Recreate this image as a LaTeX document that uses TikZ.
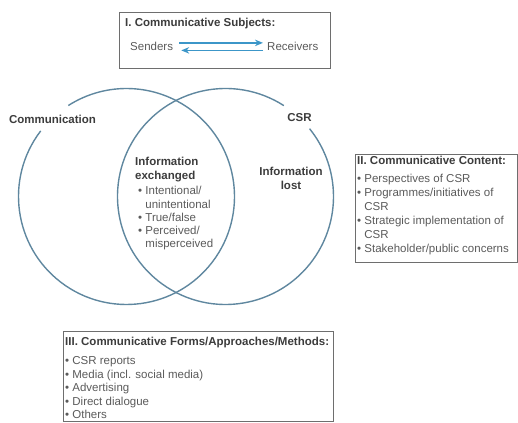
\documentclass[tikz,border=0pt]{standalone}
\usepackage{fontspec}
\setmainfont{Liberation Sans}
\usetikzlibrary{arrows.meta}
\definecolor{circ}{HTML}{5F879F}
\definecolor{arr}{HTML}{3C96C8}
\definecolor{boxln}{HTML}{6E6E6E}
\definecolor{txt}{HTML}{5A5A5A}
\definecolor{ttl}{HTML}{3C3C3C}
\newcommand{\hang}{\hphantom{•\ }}
\begin{document}
\begin{tikzpicture}[x=1pt,y=1pt,
  lbl/.style={inner sep=0pt, text=ttl, align=left, font=\fontsize{11.5}{14}\selectfont\bfseries},
  body/.style={inner sep=0pt, text=txt, align=left, font=\fontsize{11.5}{13.5}\selectfont},
  frame/.style={draw=boxln, line width=1pt, inner sep=0pt, anchor=north west},
  venn/.style={draw=circ, line width=1.4pt},
  flow/.style={draw=arr, line width=1.6pt, -{Stealth[length=8pt,width=6.5pt]}}]
\useasboundingbox (0,0) rectangle (518,422);
% Venn circles
\coordinate (lc) at (126.5,225.5);
\coordinate (rc) at (225.5,225.5);
\draw[venn] (lc) ++(142.6:108) arc[start angle=142.6, end angle=482.6, radius=108];
\draw[venn] (rc) ++(57.3:108) arc[start angle=57.3, end angle=398.9, radius=108];
% Box I
\node[frame, minimum width=211pt, minimum height=56pt] (box1) at (119,410) {};
\node[lbl, anchor=base west] (t1) at (125,395) {I. Communicative Subjects:};
\node[body, anchor=base west] (snd) at (130,371) {Senders};
\node[body, anchor=base west] (rcv) at (267,371) {Receivers};
\draw[flow] ([xshift=6pt,yshift=4pt]snd.east) -- ([xshift=-4pt,yshift=4pt]rcv.west);
\draw[flow] ([xshift=-4pt,yshift=-3.5pt]rcv.west) -- ([xshift=8pt,yshift=-3.5pt]snd.east);
% circle labels (base anchor of a multi-line node = last line)
\node[lbl, anchor=base] (comm) at (52.5,298) {Communication};
\node[lbl, anchor=base] (csr) at (299.5,300) {CSR};
\node[lbl, anchor=base west] (ixt) at (135,242) {Information\\exchanged};
\node[body, anchor=base west, font=\fontsize{11.5}{13.3}\selectfont] (ixl) at (138,174)
  {• Intentional/\\\hang unintentional\\• True/false\\• Perceived/\\\hang misperceived};
\node[lbl, anchor=base, align=center] (lost) at (291,232) {Information\\lost};
% Box II
\node[frame, minimum width=162pt, minimum height=108pt] (box2) at (355,268) {};
\node[lbl, anchor=base west] (t2) at (357,257) {II. Communicative Content:};
\node[body, anchor=base west, font=\fontsize{11.5}{14}\selectfont] (l2) at (357,169)
  {• Perspectives of CSR\\• Programmes/initiatives of\\\hang CSR\\• Strategic implementation of\\\hang CSR\\• Stakeholder/public concerns};
% Box III
\node[frame, minimum width=270pt, minimum height=90pt] (box3) at (63,91) {};
\node[lbl, anchor=base west] (t3) at (65,76) {III. Communicative Forms/Approaches/Methods:};
\node[body, anchor=base west] (l3) at (65,3.5)
  {• CSR reports\\• Media (incl. social media)\\• Advertising\\• Direct dialogue\\• Others};
\end{tikzpicture}
\end{document}
